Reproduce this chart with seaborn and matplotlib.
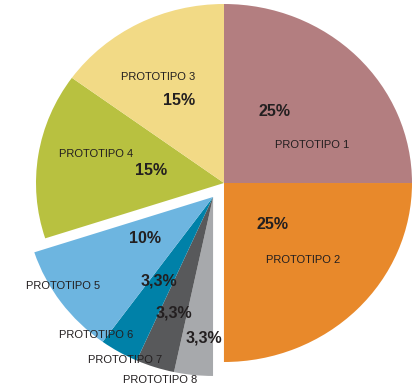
import numpy as np
import matplotlib
matplotlib.use("Agg")
import matplotlib.pyplot as plt
import seaborn as sns

# data, clockwise from 12 o'clock
labels = ["PROTOTIPO 1", "PROTOTIPO 2", "PROTOTIPO 8", "PROTOTIPO 7",
          "PROTOTIPO 6", "PROTOTIPO 5", "PROTOTIPO 4", "PROTOTIPO 3"]
values = [25, 25, 3.33, 3.33, 3.33, 10, 15, 15]
pct_text = ["25%", "25%", "3,3%", "3,3%", "3,3%", "10%", "15%", "15%"]
colors = ["#B37E80", "#E8892B", "#A7A9AC", "#58595B",
          "#0081A8", "#6DB5E0", "#B8C140", "#F2DA86"]
pulled = [False, False, True, True, True, True, False, False]

# layout (radius units, relative to each wedge's centre)
group_shift = (-0.058, -0.078)
label_pos = [(0.47, 0.21), (0.42, -0.43), (-0.28, -1.02), (-0.47, -0.91),
             (-0.62, -0.77), (-0.80, -0.50), (-0.68, 0.16), (-0.35, 0.59)]
pct_pos = [(0.27, 0.40), (0.26, -0.23), (-0.05, -0.79), (-0.21, -0.65),
           (-0.29, -0.47), (-0.36, -0.23), (-0.39, 0.07), (-0.24, 0.46)]

sns.set_theme(style="white")
plt.rcParams["font.family"] = ["Liberation Sans Narrow", "Liberation Sans", "DejaVu Sans"]

fig = plt.figure(figsize=(4.13, 3.91), dpi=100)
ax = fig.add_axes([0, 0, 1, 1])

wedges, _ = ax.pie(values, colors=colors, startangle=90, counterclock=False,
                   radius=1.0, wedgeprops=dict(linewidth=0))

for i, w in enumerate(wedges):
    cx, cy = (group_shift if pulled[i] else (0, 0))
    w.set_center((cx, cy))
    lx, ly = label_pos[i]
    px, py = pct_pos[i]
    ax.text(cx + lx, cy + ly, labels[i], ha="center", va="center",
            fontsize=8, color="#231F20")
    ax.text(cx + px, cy + py, pct_text[i], ha="center", va="center",
            fontsize=11.5, fontweight="bold", color="#231F20")

ax.set_aspect("auto")
ax.set_xlim(-224 / 188, 189 / 188)
ax.set_ylim(-208 / 179, 183 / 179)
ax.axis("off")

fig.savefig("out.png", dpi=100)
